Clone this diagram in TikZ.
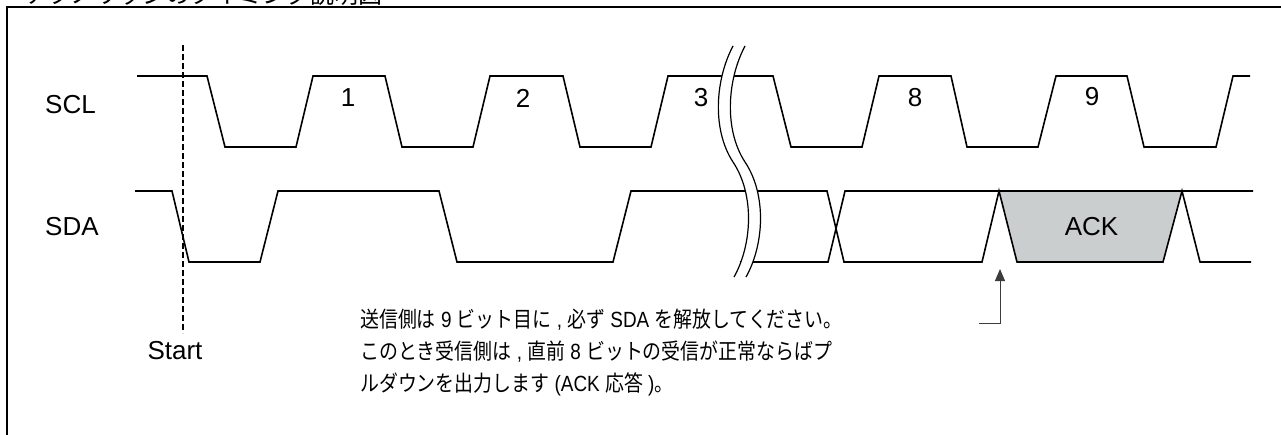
\documentclass[tikz,border=0pt]{standalone}
\usepackage{fontspec}
\setmainfont{Liberation Sans}
\newfontfamily\J[FakeStretch=0.86]{Noto Sans CJK JP}
\newfontfamily\Lt[FakeStretch=0.86]{Liberation Sans}
\newfontfamily\Jt{Noto Sans CJK JP}
\usetikzlibrary{arrows.meta}
\definecolor{ackgray}{RGB}{203,206,206}
\definecolor{arrowgray}{RGB}{60,60,60}
\begin{document}
\begin{tikzpicture}[x=1pt,y=-1pt,
  sig/.style={line width=1.6pt, line join=miter},
  wave/.style={line width=1.2pt},
  lbl/.style={font=\fontsize{26}{30}\selectfont, inner sep=0pt},
  note/.style={font=\Lt\fontsize{22}{24}\selectfont, inner sep=0pt, anchor=base west}]
\useasboundingbox (0,0) rectangle (1281,434);
% frame and clipped title
\draw[line width=1.4pt] (7,460) -- (7,7) -- (1300,7);
\node[anchor=base west, inner sep=0pt, font=\Jt\fontsize{24}{28}\selectfont] (title) at (25,3) {アクノリッジのタイミング説明図};
% SCL
\draw[sig] (137,76) -- (207,76) -- (225,147) -- (296,147) -- (313,76) -- (385,76) -- (402,147) -- (473,147) -- (490,76) -- (563,76) -- (580,147) -- (651,147) -- (668,76) -- (773,76) -- (791,147) -- (862,147) -- (879,76) -- (951,76) -- (967,147) -- (1038,147) -- (1056,76) -- (1127,76) -- (1144,147) -- (1216,147) -- (1233,76) -- (1250,76);
% SDA
\fill[ackgray] (999,191) -- (1017,262) -- (1163,262) -- (1182,191) -- cycle;
\draw[sig] (135,191) -- (172,191) -- (189,262) -- (260,262) -- (278,191) -- (439,191) -- (457,262) -- (613,262) -- (631,191) -- (827,191) -- (844,262) -- (982,262) -- (999,191) -- (1017,262) -- (1163,262) -- (1182,191) -- (1200,262) -- (1251,262);
\draw[sig] (740,262) -- (828,262) -- (845,191) -- (1253,191);
% break
\fill[white] (733,46) .. controls (715,80) and (712,130) .. (733,162) .. controls (755,195) and (752,245) .. (734,277) -- (746,277) .. controls (764,245) and (767,195) .. (745,162) .. controls (724,130) and (727,80) .. (745,46) -- cycle;
\draw[wave] (733,46) .. controls (715,80) and (712,130) .. (733,162) .. controls (755,195) and (752,245) .. (734,277);
\draw[wave] (745,46) .. controls (727,80) and (724,130) .. (745,162) .. controls (767,195) and (764,245) .. (746,277);
% labels
\node[lbl, anchor=west] (scl) at (45,104.5) {SCL};
\node[lbl, anchor=west] (sda) at (45,227) {SDA};
\node[lbl] (b1) at (348,98) {1};
\node[lbl] (b2) at (523,98) {2};
\node[lbl] (b3) at (701,98) {3};
\node[lbl] (b8) at (915,98) {8};
\node[lbl] (b9) at (1092,97) {9};
\node[lbl] (ack) at (1091.5,226.5) {ACK};
\node[lbl] (start) at (175,351) {Start};
% start marker
\coordinate (st0) at (183,45);
\coordinate (st1) at (183,333);
\draw[line width=1.5pt, dash pattern=on 6pt off 3pt] (st0) -- (st1);
% note
\node[note] (n1) at (360,327) {{\J 送信側は} 9 {\J ビット目に} , {\J 必ず} SDA {\J を解放してください。}};
\node[note] (n2) at (360,359) {{\J このとき受信側は} , {\J 直前} 8 {\J ビットの受信が正常ならばプ}};
\node[note] (n3) at (360,391) {{\J ルダウンを出力します} (ACK {\J 応答} ){\J 。}};
\coordinate (hk) at (979,323);
\coordinate (tip) at (1000,269);
\draw[line width=1pt, arrowgray, -{Triangle[length=12pt,width=10pt]}] (hk) -- (tip |- hk) -- (tip);
\end{tikzpicture}
\end{document}
